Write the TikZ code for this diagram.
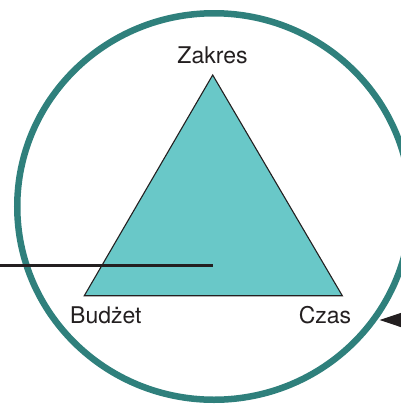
\documentclass[tikz,border=0pt]{standalone}
\usepackage{fontspec}
\setmainfont{TeX Gyre Heros}
\usetikzlibrary{arrows.meta,positioning}

\definecolor{ringteal}{RGB}{47,128,124}
\definecolor{trifill}{RGB}{105,200,200}
\definecolor{inkblack}{RGB}{35,31,32}

\begin{document}
\begin{tikzpicture}[
  x=1bp, y=-1bp,
  every node/.style={font=\fontsize{23bp}{27bp}\selectfont, text=inkblack, inner sep=0pt},
  ring/.style={draw=ringteal, line width=6.5bp},
  tri/.style={fill=trifill, draw=inkblack, line width=1.1bp, line join=miter},
  pointer/.style={draw=inkblack, line width=2.7bp}
]
  \useasboundingbox (0,0) rectangle (401,406);

  % --- Kreis und Dreieck ---
  \coordinate (mid) at (214,206.5);
  \draw[ring] (mid) ellipse [x radius=196.75bp, y radius=193.25bp];

  \coordinate (apex) at (212.7,75);
  \coordinate (bl) at (84.3,295.7);
  \coordinate (br) at (342.3,295.7);
  \draw[tri] (apex) -- (bl) -- (br) -- cycle;

  % Beschriftungen
  \node (zakres) [anchor=base] at (212.5,63.3) {Zakres};
  \node (budzet) [anchor=base west] at (70,323) {Budżet};
  \node (czas)   [anchor=base] at (325,323) {Czas};

  % --- Linie und Pfeil ---
  \coordinate (lineL) at (0,265.7);
  \coordinate (lineR) at (212.7,265.7);
  \draw[pointer] (lineL) -- (lineR);

  \coordinate (arrS) at (450,320);
  \coordinate (arrT) at (379.5,320);
  \draw[pointer, -{Triangle[length=26bp, width=16.6bp]}] (arrS) -- (arrT);
\end{tikzpicture}
\end{document}
